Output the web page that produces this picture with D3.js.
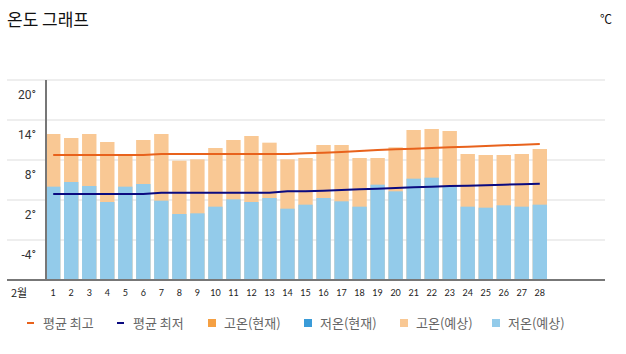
<!DOCTYPE html>
<html>
<head>
<meta charset="utf-8">
<script src="https://cdn.jsdelivr.net/npm/d3@7"></script>
<style>
  body { margin: 0; background: #fff; }
  svg { display: block; }
</style>
</head>
<body>
<svg id="chart" width="626" height="354"></svg>
<script>
const days = d3.range(1, 29).map(String);
const highForecast = [11.9, 11.3, 11.9, 10.7, 8.6, 11.0, 11.9, 7.9, 8.1, 9.8, 11.0, 11.6, 10.6, 8.1,
  8.3, 10.25, 10.25, 8.3, 8.3, 9.9, 12.5, 12.65, 12.35, 8.9, 8.75, 8.75, 8.9, 9.65];
const lowForecast = [4.0, 4.7, 4.1, 1.7, 4.0, 4.4, 1.9, -0.1, 0.0, 1.0, 2.1, 1.7, 2.3, 0.7,
  1.3, 2.3, 1.8, 1.0, 4.3, 3.3, 5.2, 5.35, 4.0, 1.0, 0.85, 1.2, 1.0, 1.3];
const avgHigh = [8.75, 8.75, 8.75, 8.75, 8.75, 8.75, 8.9, 8.9, 8.9, 8.9, 8.9, 8.9, 8.9, 8.9,
  9.0, 9.1, 9.2, 9.35, 9.5, 9.6, 9.7, 9.8, 9.9, 10.0, 10.1, 10.2, 10.3, 10.4];
const avgLow = [2.9, 2.9, 2.9, 2.9, 2.9, 2.9, 3.1, 3.1, 3.1, 3.1, 3.1, 3.1, 3.1, 3.3,
  3.3, 3.4, 3.5, 3.6, 3.7, 3.8, 3.9, 4.0, 4.1, 4.15, 4.2, 4.3, 4.35, 4.45];
const yTicks = [20, 14, 8, 2, -4];
const legendItems = [
  { label: "평균 최고", color: "#e8621c", type: "line", x: 27 },
  { label: "평균 최저", color: "#0a0a80", type: "line", x: 117 },
  { label: "고온(현재)", color: "#f5a043", type: "box", x: 208 },
  { label: "저온(현재)", color: "#3a9bd8", type: "box", x: 304 },
  { label: "고온(예상)", color: "#f9c894", type: "box", x: 400 },
  { label: "저온(예상)", color: "#93cbea", type: "box", x: 492 }
];

const svg = d3.select("#chart");
const font = "'Noto Sans CJK KR', 'Noto Sans', sans-serif";

const x = d3.scaleBand()
  .domain(days)
  .range([46, 547])
  .paddingInner(0.2)
  .paddingOuter(0);

const y = d3.scaleLinear()
  .domain([-10, 20])
  .range([280, 80]);

// title
svg.append("text")
  .attr("x", 7).attr("y", 26)
  .attr("font-family", font).attr("font-size", 17)
  .attr("fill", "#111")
  .text("온도 그래프");
svg.append("text")
  .attr("x", 612).attr("y", 24)
  .attr("text-anchor", "end")
  .attr("font-family", font).attr("font-size", 12)
  .attr("fill", "#111")
  .text("℃");

// grid
svg.append("g")
  .selectAll("line")
  .data(yTicks)
  .join("line")
  .attr("x1", 7).attr("x2", 605)
  .attr("y1", d => y(d)).attr("y2", d => y(d))
  .attr("stroke", "#eeeeee")
  .attr("stroke-width", 2);

// y labels (sit just below their grid line)
svg.append("g")
  .selectAll("text")
  .data(yTicks)
  .join("text")
  .attr("x", 36)
  .attr("y", d => y(d) + 19)
  .attr("text-anchor", "end")
  .attr("font-family", "Roboto, sans-serif")
  .attr("font-size", 12)
  .attr("fill", "#333")
  .text(d => d + "°");

// bars
svg.append("g")
  .selectAll("rect")
  .data(days)
  .join("rect")
  .attr("x", d => x(d))
  .attr("width", x.bandwidth())
  .attr("y", (d, i) => y(highForecast[i]))
  .attr("height", (d, i) => y(-10) - y(highForecast[i]))
  .attr("fill", "#f9c894");

svg.append("g")
  .selectAll("rect")
  .data(days)
  .join("rect")
  .attr("x", d => x(d))
  .attr("width", x.bandwidth())
  .attr("y", (d, i) => y(lowForecast[i]))
  .attr("height", (d, i) => y(-10) - y(lowForecast[i]))
  .attr("fill", "#93cbea");

// average lines
const line = d3.line()
  .x((d, i) => x(days[i]) + x.bandwidth() / 2)
  .y(d => y(d));

svg.append("path")
  .datum(avgHigh)
  .attr("fill", "none")
  .attr("stroke", "#e8621c")
  .attr("stroke-width", 2)
  .attr("d", line);

svg.append("path")
  .datum(avgLow)
  .attr("fill", "none")
  .attr("stroke", "#0a0a80")
  .attr("stroke-width", 2)
  .attr("d", line);

// axes lines
svg.append("line")
  .attr("x1", 46).attr("x2", 46)
  .attr("y1", 80).attr("y2", 280)
  .attr("stroke", "#777").attr("stroke-width", 2);
svg.append("line")
  .attr("x1", 7).attr("x2", 605)
  .attr("y1", 280).attr("y2", 280)
  .attr("stroke", "#777").attr("stroke-width", 2);

// x labels
svg.append("g")
  .selectAll("text")
  .data(days)
  .join("text")
  .attr("x", d => x(d) + x.bandwidth() / 2)
  .attr("y", 296)
  .attr("text-anchor", "middle")
  .attr("font-family", "Lato, sans-serif")
  .attr("font-size", 9)
  .attr("fill", "#222")
  .text(d => d);
svg.append("text")
  .attr("x", 11).attr("y", 297)
  .attr("font-family", font).attr("font-size", 11)
  .attr("fill", "#222")
  .text("2월");

// legend
const legend = svg.append("g")
  .selectAll("g")
  .data(legendItems)
  .join("g")
  .attr("transform", d => `translate(${d.x},323)`);

legend.filter(d => d.type === "line")
  .append("rect")
  .attr("x", 0).attr("y", -1)
  .attr("width", 7).attr("height", 2)
  .attr("fill", d => d.color);
legend.filter(d => d.type === "box")
  .append("rect")
  .attr("x", 0).attr("y", -4)
  .attr("width", 8).attr("height", 8)
  .attr("fill", d => d.color);
legend.append("text")
  .attr("x", 16)
  .attr("y", 5)
  .attr("font-family", font)
  .attr("font-size", 13)
  .attr("fill", "#666")
  .text(d => d.label);
</script>
</body>
</html>
